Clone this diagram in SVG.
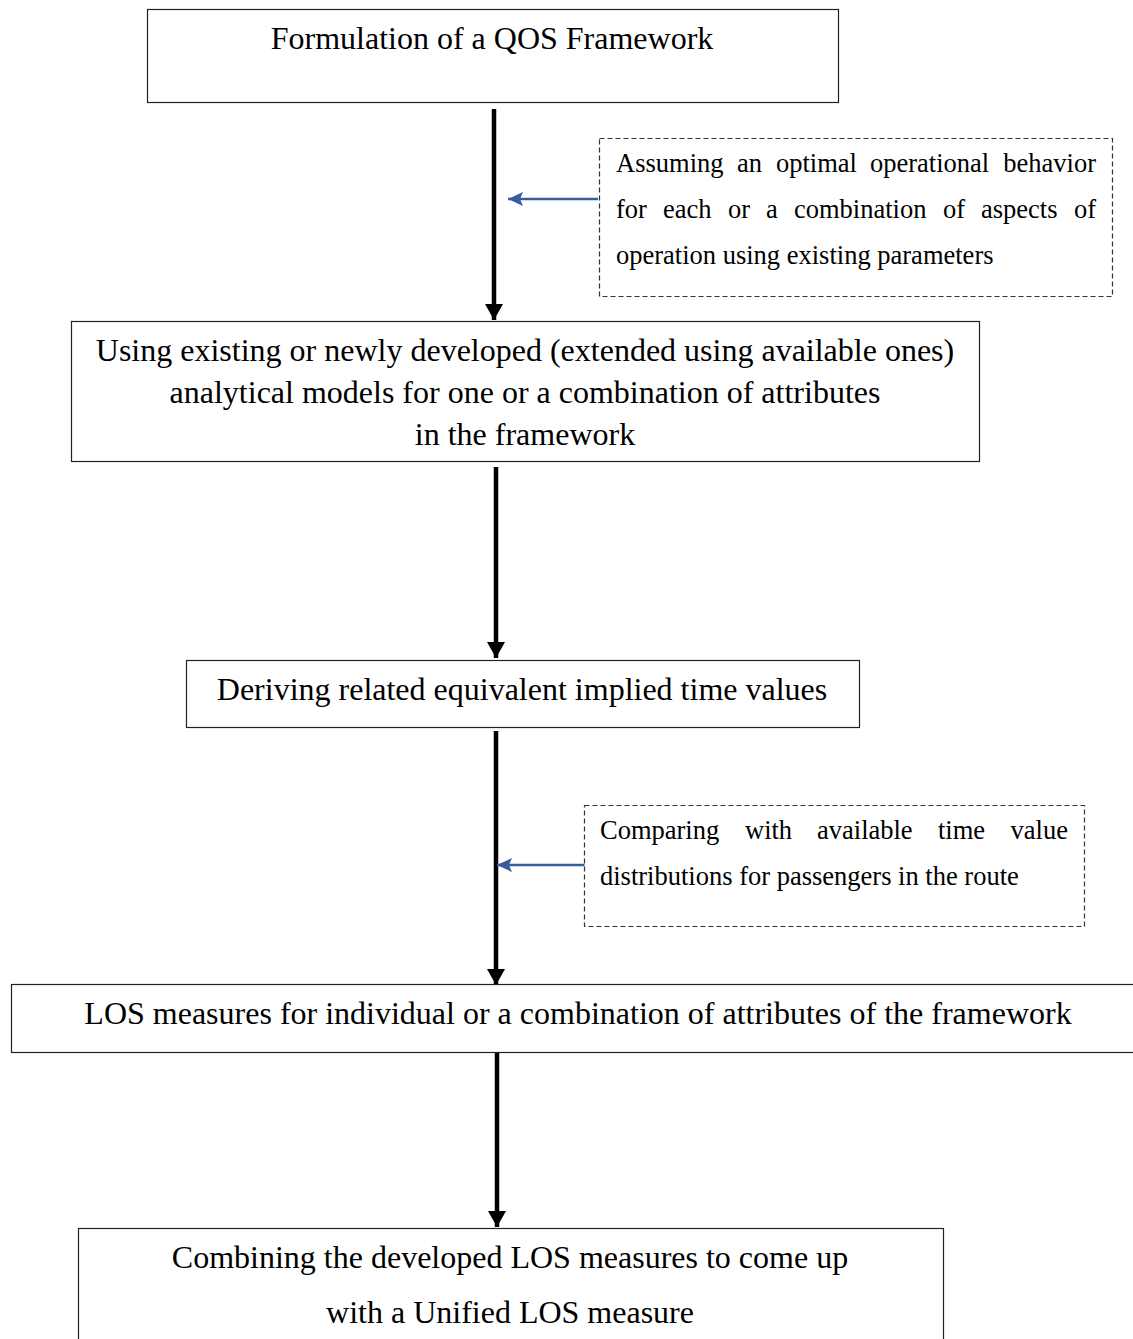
<svg xmlns="http://www.w3.org/2000/svg" width="1133" height="1339" viewBox="0 0 1133 1339">
<style>
.box{fill:#fff;stroke:#222;stroke-width:1.2}
.dbox{fill:#fff;stroke:#333;stroke-width:1.2;stroke-dasharray:5 3}
.t{font-family:"Liberation Serif","Times New Roman",serif;fill:#000}
.big{font-size:32px}
.sm{font-size:26.5px}
.main{stroke:#000;stroke-width:4.5;fill:none}
.side{stroke:#3a5c9e;stroke-width:2.5;fill:none}
</style>
<defs>
<marker id="ah" markerUnits="userSpaceOnUse" markerWidth="20" markerHeight="20" refX="16" refY="9" orient="auto">
<path d="M0,0 L16,9 L0,18 Z" fill="#000"/>
</marker>
<marker id="bh" markerUnits="userSpaceOnUse" markerWidth="18" markerHeight="16" refX="15" refY="7" orient="auto">
<path d="M0,0 L15,7 L0,14 L3,7 Z" fill="#3a5c9e"/>
</marker>
</defs>
<rect width="1133" height="1339" fill="#fff"/>
<g id="connectors">
<line class="main" x1="494" y1="109" x2="494" y2="320" marker-end="url(#ah)"/>
<line class="main" x1="496" y1="467" x2="496" y2="658" marker-end="url(#ah)"/>
<line class="main" x1="496" y1="731" x2="496" y2="985" marker-end="url(#ah)"/>
<line class="main" x1="497" y1="1053" x2="497" y2="1227" marker-end="url(#ah)"/>
<line class="side" x1="598" y1="199" x2="508" y2="199" marker-end="url(#bh)"/>
<line class="side" x1="585" y1="865" x2="497" y2="865" marker-end="url(#bh)"/>
</g>
<g id="n1">
<rect class="box" x="147.5" y="9.5" width="691" height="93"/>
<text class="t big" x="492" y="49" text-anchor="middle">Formulation of a QOS Framework</text>
</g>
<g id="note1">
<rect class="dbox" x="599.5" y="138.5" width="513" height="158"/>
<text class="t sm" y="172"><tspan x="616">Assuming</tspan><tspan x="737">an</tspan><tspan x="776">optimal</tspan><tspan x="870">operational</tspan></text>
<text class="t sm" x="1096" y="172" text-anchor="end">behavior</text>
<text class="t sm" y="218"><tspan x="616">for</tspan><tspan x="663">each</tspan><tspan x="728">or</tspan><tspan x="766">a</tspan><tspan x="794">combination</tspan><tspan x="943">of</tspan><tspan x="981">aspects</tspan></text>
<text class="t sm" x="1096" y="218" text-anchor="end">of</text>
<text class="t sm" x="616" y="264">operation using existing parameters</text>
</g>
<g id="n2">
<rect class="box" x="71.5" y="321.5" width="908" height="140"/>
<text class="t big" x="525" y="361" text-anchor="middle">Using existing or newly developed (extended using available ones)</text>
<text class="t big" x="525" y="403" text-anchor="middle">analytical models for one or a combination of attributes</text>
<text class="t big" x="525" y="445" text-anchor="middle">in the framework</text>
</g>
<g id="n3">
<rect class="box" x="186.5" y="660.5" width="673" height="67"/>
<text class="t big" x="522" y="700" text-anchor="middle">Deriving related equivalent implied time values</text>
</g>
<g id="note2">
<rect class="dbox" x="584.5" y="805.5" width="500" height="121"/>
<text class="t sm" y="839"><tspan x="600">Comparing</tspan><tspan x="745">with</tspan><tspan x="817">available</tspan><tspan x="938">time</tspan></text>
<text class="t sm" x="1068" y="839" text-anchor="end">value</text>
<text class="t sm" x="600" y="885">distributions for passengers in the route</text>
</g>
<g id="n4">
<rect class="box" x="11.5" y="984.5" width="1130" height="68"/>
<text class="t big" x="578" y="1024" text-anchor="middle">LOS measures for individual or a combination of attributes of the framework</text>
</g>
<g id="n5">
<rect class="box" x="78.5" y="1228.5" width="865" height="130"/>
<text class="t big" x="510" y="1268" text-anchor="middle">Combining the developed LOS measures to come up</text>
<text class="t big" x="510" y="1323" text-anchor="middle">with a Unified LOS measure</text>
</g>
</svg>
